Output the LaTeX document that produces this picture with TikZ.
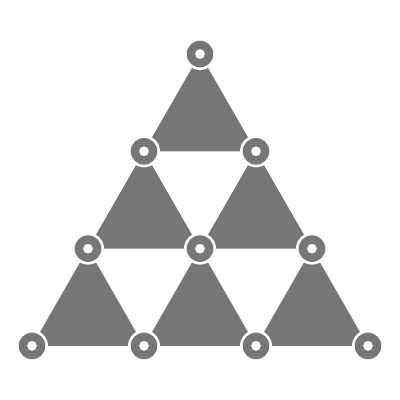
\documentclass[tikz,border=0pt]{standalone}
\definecolor{tri}{RGB}{118,118,118}
\tikzset{
  trishape/.style={fill=tri},
  gapdisc/.style={fill=white},
  ringshape/.style={fill=tri, even odd rule}
}
\begin{document}
\begin{tikzpicture}[x=1pt,y=-1pt]
\useasboundingbox (0,0) rectangle (400,400);
% lattice vertices v-i-j : row i, position j
\foreach \i in {0,1,2,3}{
  \foreach \j in {0,...,\i}{
    \coordinate (v-\i-\j) at ({200-56*\i+112*\j},{54+97.3*\i});
  }
}
% upward triangles
\foreach \i [evaluate=\i as \n using int(\i+1)] in {0,1,2}{
  \foreach \j [evaluate=\j as \m using int(\j+1)] in {0,...,\i}{
    \fill[trishape] (v-\i-\j) -- (v-\n-\j) -- (v-\n-\m) -- cycle;
  }
}
% white gaps and rings
\foreach \i in {0,1,2,3}{
  \foreach \j in {0,...,\i}{
    \fill[gapdisc] (v-\i-\j) circle[radius=16];
    \fill[ringshape] (v-\i-\j) circle[radius=13.3] (v-\i-\j) circle[radius=5];
  }
}
\end{tikzpicture}
\end{document}
